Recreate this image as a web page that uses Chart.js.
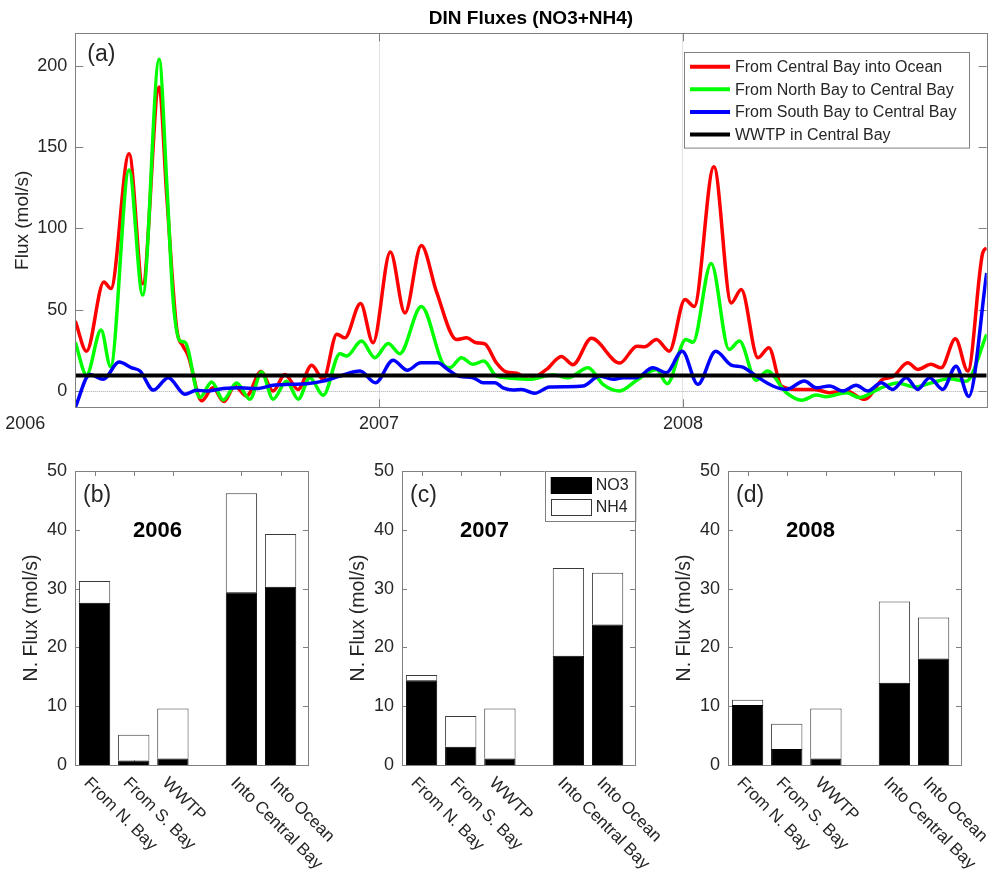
<!DOCTYPE html>
<html>
<head>
<meta charset="utf-8">
<script src="https://cdn.jsdelivr.net/npm/chart.js@4.4.1/dist/chart.umd.min.js"></script>
<style>
  html, body { margin: 0; padding: 0; background: #fff; }
  #wrap { position: relative; width: 990px; height: 879px; overflow: hidden; }
  canvas { position: absolute; }
</style>
</head>
<body>
<div id="wrap">
  <canvas id="fluxChart" width="990" height="440" style="left:0;top:0;width:990px;height:440px"></canvas>
  <canvas id="bar2006" width="345" height="439" style="left:0;top:440px;width:345px;height:439px"></canvas>
  <canvas id="bar2007" width="345" height="439" style="left:327px;top:440px;width:345px;height:439px"></canvas>
  <canvas id="bar2008" width="345" height="439" style="left:653px;top:440px;width:345px;height:439px"></canvas>
</div>
<script>
// ---- data: panel (a) time series, x in decimal years ----
const yearTicks = [2006, 2007, 2008];
const fluxTicks = [0, 50, 100, 150, 200];

const oceanYears = [2006.000, 2006.037, 2006.094, 2006.117, 2006.177, 2006.222, 2006.276, 2006.301, 2006.334, 2006.355,
  2006.372, 2006.416, 2006.453, 2006.489, 2006.525, 2006.564, 2006.611, 2006.651, 2006.690, 2006.733,
  2006.778, 2006.816, 2006.861, 2006.887, 2006.939, 2006.980, 2007.037, 2007.085, 2007.139, 2007.189,
  2007.255, 2007.288, 2007.320, 2007.348, 2007.386, 2007.419, 2007.453, 2007.490, 2007.551, 2007.600,
  2007.638, 2007.699, 2007.792, 2007.849, 2007.874, 2007.913, 2007.955, 2008.007, 2008.037, 2008.102,
  2008.159, 2008.192, 2008.247, 2008.283, 2008.324, 2008.373, 2008.433, 2008.483, 2008.538, 2008.598,
  2008.658, 2008.691, 2008.740, 2008.773, 2008.817, 2008.850, 2008.897, 2008.938, 2008.987, 2009.000];
const oceanFlux = [43, 24.5, 67, 63, 146, 66, 187, 120, 38, 27.6,
  21.5, -6, 2, -6.5, 3, -3, 12, 0, 10.2, 1,
  15.8, 7.2, 35, 32.7, 53.8, 29.7, 85.5, 48, 89.5, 61,
  31.7, 32.7, 29.7, 29, 17.4, 11.7, 11, 7.2, 13.3, 21.3,
  16.2, 32.4, 17.2, 27.6, 27.2, 31.7, 24.5, 56.3, 52, 138,
  54.2, 62.4, 20.5, 26.6, 3.1, 1, 1, -1, 0, -5.1,
  7.2, 8.8, 17.4, 13.3, 16.4, 14.3, 32.1, 12.3, 85, 88];

const northYears = [2006.000, 2006.037, 2006.085, 2006.116, 2006.177, 2006.222, 2006.276, 2006.301, 2006.322, 2006.344,
  2006.361, 2006.410, 2006.449, 2006.487, 2006.531, 2006.575, 2006.613, 2006.651, 2006.695, 2006.734,
  2006.772, 2006.816, 2006.871, 2006.893, 2006.942, 2006.986, 2007.030, 2007.068, 2007.139, 2007.211,
  2007.233, 2007.271, 2007.309, 2007.344, 2007.386, 2007.419, 2007.496, 2007.572, 2007.622, 2007.688,
  2007.737, 2007.792, 2007.847, 2007.913, 2007.948, 2008.010, 2008.033, 2008.093, 2008.152, 2008.186,
  2008.241, 2008.278, 2008.340, 2008.392, 2008.439, 2008.472, 2008.538, 2008.581, 2008.647, 2008.706,
  2008.762, 2008.818, 2008.877, 2008.932, 2009.000];
const northFlux = [30, 10, 37.5, 15, 136, 59, 204, 128, 56, 31,
  30, -4, 5.5, -5.5, 5, -5, 11.7, -5, 6, -5,
  8.2, -2.6, 23, 21.5, 30.7, 20.5, 29.3, 23, 52, 16.4,
  14.3, 20.5, 16.4, 18.4, 9.2, 8.2, 7.2, 10, 8.2, 14.3,
  4.1, 0, 6.5, 13.3, 4.5, 31.7, 30, 78.5, 25.6, 30.7,
  6.6, 12.3, -1, -5.6, -2.5, -3.5, -1, -4, 1.5, 5,
  2.5, 5, 7.5, 6, 34.8];

const southYears = [2006.000, 2006.048, 2006.092, 2006.144, 2006.186, 2006.213, 2006.257, 2006.306, 2006.361, 2006.399,
  2006.432, 2006.487, 2006.542, 2006.597, 2006.651, 2006.706, 2006.761, 2006.816, 2006.871, 2006.937,
  2006.988, 2007.046, 2007.093, 2007.137, 2007.193, 2007.226, 2007.265, 2007.309, 2007.342, 2007.381,
  2007.408, 2007.441, 2007.469, 2007.512, 2007.561, 2007.616, 2007.671, 2007.726, 2007.770, 2007.803,
  2007.847, 2007.901, 2007.945, 2007.998, 2008.049, 2008.108, 2008.159, 2008.197, 2008.241, 2008.296,
  2008.340, 2008.400, 2008.439, 2008.483, 2008.526, 2008.570, 2008.609, 2008.653, 2008.691, 2008.735,
  2008.773, 2008.812, 2008.855, 2008.899, 2008.941, 2009.000];
const southFlux = [-10, 10.2, 7.2, 17.8, 14.3, 12.3, 0.6, 8.2, -2, 0.5,
  0, 1.5, 2, 1.5, 3.5, 4.1, 4.5, 6.1, 9.2, 12.3,
  5.1, 19, 12.8, 17.4, 17.4, 13.3, 9, 8.2, 5.1, 5.1,
  2, 0.6, 1, -1.4, 2.5, 2.7, 3.1, 9.2, 7.2, 8.2,
  8.2, 14.3, 11.3, 24.5, 4.1, 24.5, 16, 14.7, 9.2, 3.1,
  1, 6.1, 2, 3.1, 0, 3.5, 0, 5.1, 1, 8.2,
  1, 8.2, 1, 15.3, -3.3, 72.6];

const wwtpYears = [2006, 2009];
const wwtpFlux = [9.6, 9.6];

// ---- data: panels (b)-(d), annual mean N fluxes ----
const barLabels = ['From N. Bay', 'From S. Bay', 'WWTP', 'Into Central Bay', 'Into Ocean'];
const barPos = [1, 2, 3, 4.75, 5.75];
const nTicks = [0, 10, 20, 30, 40, 50];
const no3_2006 = [27.6, 0.75, 1.1, 29.4, 30.3];
const nh4_2006 = [3.7, 4.4, 8.5, 16.8, 9.0];
const no3_2007 = [14.4, 3.1, 1.1, 18.6, 23.9];
const nh4_2007 = [0.9, 5.25, 8.5, 14.9, 8.8];
const no3_2008 = [10.2, 2.7, 1.1, 14.0, 18.1];
const nh4_2008 = [0.9, 4.3, 8.5, 13.8, 7.0];

const FAM = '"Liberation Sans", Arial, Helvetica, sans-serif';
const TEXT = '#262626';
const AXIS = '#808080';
Chart.defaults.font.family = FAM;

function seg(ctx, x1, y1, x2, y2) {
  ctx.beginPath();
  ctx.moveTo(x1, y1);
  ctx.lineTo(x2, y2);
  ctx.stroke();
}

function frame(ctx, a) {
  ctx.save();
  ctx.strokeStyle = AXIS;
  ctx.lineWidth = 1;
  ctx.strokeRect(Math.round(a.left) + 0.5, Math.round(a.top) + 0.5,
    Math.round(a.right) - Math.round(a.left), Math.round(a.bottom) - Math.round(a.top));
  ctx.restore();
}

// MATLAB-ish decorations for panel (a)
const fluxDecor = {
  id: 'fluxDecor',
  beforeDatasetsDraw(chart) {
    const { ctx, chartArea: a, scales: { x, y } } = chart;
    ctx.save();
    ctx.lineWidth = 1;
    // dotted zero line
    const y0 = Math.round(y.getPixelForValue(0)) + 0.5;
    ctx.strokeStyle = '#a8a8a8';
    ctx.setLineDash([1, 1]);
    seg(ctx, a.left, y0, a.right, y0);
    ctx.setLineDash([]);
    // inward ticks
    ctx.strokeStyle = AXIS;
    y.ticks.forEach(t => {
      const py = Math.round(y.getPixelForValue(t.value)) + 0.5;
      seg(ctx, a.left, py, a.left + 8, py);
      seg(ctx, a.right - 8, py, a.right, py);
    });
    x.ticks.forEach(t => {
      const px = Math.round(x.getPixelForValue(t.value)) + 0.5;
      seg(ctx, px, a.bottom, px, a.bottom - 8);
      seg(ctx, px, a.top, px, a.top + 8);
    });
    ctx.restore();
  },
  afterDatasetsDraw(chart) {
    const { ctx, chartArea: a, scales: { x } } = chart;
    frame(ctx, a);
    ctx.save();
    ctx.fillStyle = TEXT;
    ctx.textBaseline = 'middle';

    // year labels (the first one sits left of the axis, as in the figure)
    ctx.font = `18px ${FAM}`;
    ctx.textAlign = 'center';
    const nudge = [-50, 0, 0];
    x.ticks.forEach((t, i) => {
      ctx.fillText(String(t.value), x.getPixelForValue(t.value) + nudge[i], a.bottom + 17);
    });

    // panel tag
    ctx.textAlign = 'left';
    ctx.font = `23px ${FAM}`;
    ctx.fillText('(a)', a.left + 12, a.top + 21);

    // legend box
    const w = 285, h = 95.6;
    const left = a.right - 17.7 - w, top = a.top + 18.4;
    ctx.fillStyle = '#fff';
    ctx.fillRect(left, top, w, h);
    ctx.strokeStyle = AXIS;
    ctx.lineWidth = 1;
    ctx.strokeRect(Math.round(left) + 0.5, Math.round(top) + 0.5, w, h);
    ctx.font = `16px ${FAM}`;
    chart.data.datasets.forEach((ds, i) => {
      const cy = top + 15 + i * 22.6;
      ctx.strokeStyle = ds.borderColor;
      ctx.lineWidth = 4;
      seg(ctx, left + 6, cy, left + 46, cy);
      ctx.fillStyle = TEXT;
      ctx.fillText(ds.label, left + 51, cy + 1);
    });
    ctx.restore();
  }
};

const lineSeries = [
  { label: 'From Central Bay into Ocean', xs: oceanYears, ys: oceanFlux, color: '#ff0000', order: 4 },
  { label: 'From North Bay to Central Bay', xs: northYears, ys: northFlux, color: '#00ff00', order: 3 },
  { label: 'From South Bay to Central Bay', xs: southYears, ys: southFlux, color: '#0000ff', order: 2 },
  { label: 'WWTP in Central Bay', xs: wwtpYears, ys: wwtpFlux, color: '#000000', order: 1 }
];

new Chart(document.getElementById('fluxChart'), {
  type: 'line',
  data: {
    datasets: lineSeries.map(s => ({
      label: s.label,
      data: s.xs.map((v, i) => ({ x: v, y: s.ys[i] })),
      borderColor: s.color,
      backgroundColor: s.color,
      borderWidth: s.order === 1 ? 4 : 3.5,
      pointRadius: 0,
      fill: false,
      cubicInterpolationMode: 'monotone',
      borderJoinStyle: 'round',
      order: s.order
    }))
  },
  options: {
    responsive: false,
    animation: false,
    layout: { padding: { left: 0, right: 3.3, top: 0, bottom: 0 } },
    plugins: {
      legend: { display: false },
      tooltip: { enabled: false },
      title: {
        display: true,
        text: 'DIN Fluxes (NO3+NH4)',
        fullSize: false,
        color: '#000',
        font: { family: FAM, size: 19, weight: 'bold' },
        padding: { top: 7.5, bottom: 3 }
      }
    },
    scales: {
      x: {
        type: 'linear',
        min: 2006,
        max: 2009,
        afterBuildTicks(s) { s.ticks = yearTicks.map(v => ({ value: v })); },
        ticks: { display: false },
        grid: {
          color: c => (c.tick && c.tick.value > 2006 ? '#e2e2e2' : 'rgba(0,0,0,0)'),
          drawTicks: false,
          lineWidth: 1
        },
        border: { display: false },
        afterFit(s) { s.height = 32.7; }
      },
      y: {
        min: -10,
        max: 220,
        afterBuildTicks(s) { s.ticks = fluxTicks.map(v => ({ value: v })); },
        ticks: { color: TEXT, font: { family: FAM, size: 18 }, padding: 8 },
        grid: { display: false, drawTicks: false },
        border: { display: false },
        title: {
          display: true,
          text: 'Flux (mol/s)',
          color: TEXT,
          font: { family: FAM, size: 19 },
          padding: { top: 11.3, bottom: 0 }
        },
        afterFit(s) { s.width = 75.3; }
      }
    }
  },
  plugins: [fluxDecor]
});

// decorations for the bar panels
const barDecor = {
  id: 'barDecor',
  beforeDatasetsDraw(chart) {
    const { ctx, chartArea: a, scales: { x, y } } = chart;
    ctx.save();
    ctx.strokeStyle = AXIS;
    ctx.lineWidth = 1;
    y.ticks.forEach(t => {
      const py = Math.round(y.getPixelForValue(t.value)) + 0.5;
      seg(ctx, a.left, py, a.left + 5, py);
      seg(ctx, a.right - 5, py, a.right, py);
    });
    x.ticks.forEach(t => {
      const px = Math.round(x.getPixelForValue(t.value)) + 0.5;
      seg(ctx, px, a.top, px, a.top + 5);
      seg(ctx, px, a.bottom, px, a.bottom - 5);
    });
    ctx.restore();
  },
  afterDatasetsDraw(chart, args, opts) {
    const { ctx, chartArea: a, scales: { x } } = chart;
    frame(ctx, a);
    ctx.save();
    ctx.fillStyle = TEXT;
    ctx.textBaseline = 'middle';
    ctx.textAlign = 'left';

    // slanted category labels
    ctx.font = `17px ${FAM}`;
    barPos.forEach((p, i) => {
      ctx.save();
      ctx.translate(x.getPixelForValue(p) - 8, a.bottom + 15.5);
      ctx.rotate(Math.PI / 4);
      ctx.fillText(barLabels[i], 0, 0);
      ctx.restore();
    });

    ctx.font = `23px ${FAM}`;
    ctx.fillText(opts.tag, a.left + 8, a.top + 25);

    ctx.fillStyle = '#000';
    ctx.font = `bold 22px ${FAM}`;
    ctx.textAlign = 'center';
    ctx.fillText(opts.year, a.left + 82.5, a.top + 60);

    if (opts.legend) {
      const w = 90.3, h = 50;
      const left = a.right - w, top = a.top;
      ctx.fillStyle = '#fff';
      ctx.fillRect(left, top, w, h);
      ctx.strokeStyle = AXIS;
      ctx.lineWidth = 1;
      ctx.strokeRect(Math.round(left) + 0.5, Math.round(top) + 0.5, w, h);
      ctx.textAlign = 'left';
      ctx.font = `16px ${FAM}`;
      chart.data.datasets.forEach((ds, i) => {
        const py = top + 6 + i * 22;
        ctx.fillStyle = ds.backgroundColor;
        ctx.fillRect(left + 6, py, 40.7, 16.7);
        ctx.strokeStyle = ds.borderColor;
        ctx.strokeRect(Math.round(left + 6) + 0.5, Math.round(py) + 0.5, 40, 16);
        ctx.fillStyle = TEXT;
        ctx.fillText(ds.label, left + 51, py + 9);
      });
    }
    ctx.restore();
  }
};

function barPanel(id, tag, year, no3, nh4, legend) {
  new Chart(document.getElementById(id), {
    type: 'bar',
    data: {
      datasets: [
        {
          label: 'NO3',
          data: barPos.map((p, i) => ({ x: p, y: no3[i] })),
          backgroundColor: '#000000',
          borderColor: '#000000',
          borderWidth: 1,
          stack: 'n',
          barPercentage: 0.8,
          categoryPercentage: 1
        },
        {
          label: 'NH4',
          data: barPos.map((p, i) => ({ x: p, y: nh4[i] })),
          backgroundColor: '#ffffff',
          borderColor: '#3a3a3a',
          borderWidth: 1,
          stack: 'n',
          barPercentage: 0.8,
          categoryPercentage: 1
        }
      ]
    },
    options: {
      responsive: false,
      animation: false,
      // canvas is wider than the axes so the slanted labels are not cut off
      layout: { padding: { left: 0, right: 37, top: 31, bottom: 0 } },
      plugins: {
        legend: { display: false },
        tooltip: { enabled: false },
        barDecor: { tag, year, legend }
      },
      scales: {
        x: {
          type: 'linear',
          min: 0.5,
          max: 6.45,
          offset: false,
          stacked: true,
          afterBuildTicks(s) { s.ticks = barPos.map(v => ({ value: v })); },
          ticks: { display: false },
          grid: { display: false, drawTicks: false },
          border: { display: false },
          afterFit(s) { s.height = 114; }
        },
        y: {
          min: 0,
          max: 50,
          stacked: true,
          afterBuildTicks(s) { s.ticks = nTicks.map(v => ({ value: v })); },
          ticks: { color: TEXT, font: { family: FAM, size: 18 }, padding: 8 },
          grid: { display: false, drawTicks: false },
          border: { display: false },
          title: {
            display: true,
            text: 'N. Flux (mol/s)',
            color: TEXT,
            font: { family: FAM, size: 19.5 },
            padding: { top: 20, bottom: 0 }
          },
          afterFit(s) { s.width = 75; }
        }
      }
    },
    plugins: [barDecor]
  });
}

barPanel('bar2006', '(b)', '2006', no3_2006, nh4_2006, false);
barPanel('bar2007', '(c)', '2007', no3_2007, nh4_2007, true);
barPanel('bar2008', '(d)', '2008', no3_2008, nh4_2008, false);
</script>
</body>
</html>
